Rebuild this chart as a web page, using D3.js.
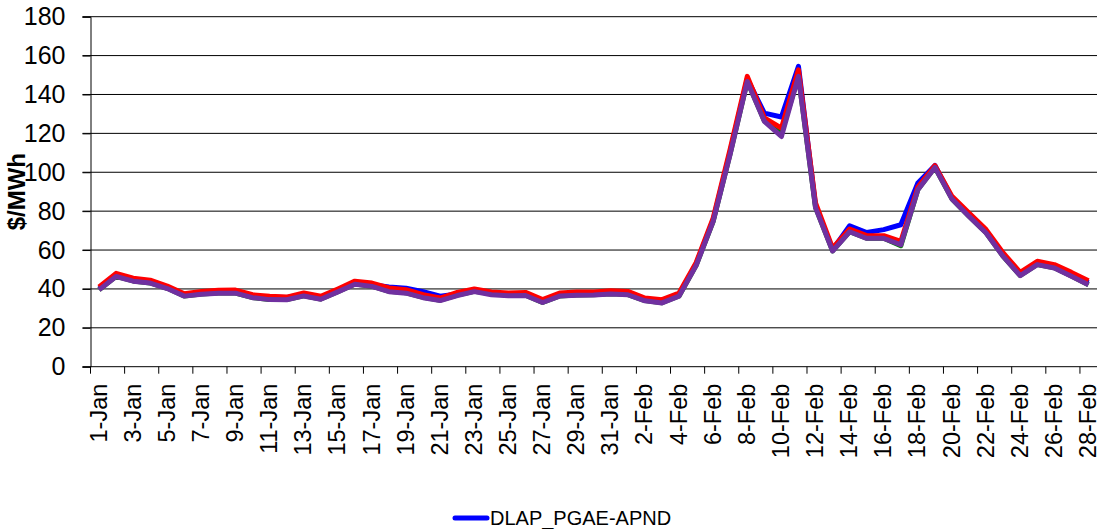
<!DOCTYPE html>
<html>
<head>
<meta charset="utf-8">
<script src="https://cdn.jsdelivr.net/npm/d3@7"></script>
<style>
  html, body { margin: 0; padding: 0; background: #fff; }
  svg { display: block; font-family: "Liberation Sans", Arial, sans-serif; }
</style>
</head>
<body>
<svg id="chart" width="1102" height="529"></svg>
<script>
const categories = [
  "1-Jan","2-Jan","3-Jan","4-Jan","5-Jan","6-Jan","7-Jan","8-Jan","9-Jan","10-Jan",
  "11-Jan","12-Jan","13-Jan","14-Jan","15-Jan","16-Jan","17-Jan","18-Jan","19-Jan","20-Jan",
  "21-Jan","22-Jan","23-Jan","24-Jan","25-Jan","26-Jan","27-Jan","28-Jan","29-Jan","30-Jan","31-Jan",
  "1-Feb","2-Feb","3-Feb","4-Feb","5-Feb","6-Feb","7-Feb","8-Feb","9-Feb","10-Feb",
  "11-Feb","12-Feb","13-Feb","14-Feb","15-Feb","16-Feb","17-Feb","18-Feb","19-Feb","20-Feb",
  "21-Feb","22-Feb","23-Feb","24-Feb","25-Feb","26-Feb","27-Feb","28-Feb"
];

const blueValues = [
  40, 47, 44.8, 43.8, 40.8, 37, 38, 38.6, 38.6, 36.3, 35.8, 35.6, 37.2, 35.5, 39.3, 43.2,
  42.2, 41, 40.4, 38.6, 36.3, 37.4, 39.6, 37.7, 37.2, 37.4, 33.7, 37.1, 37.6, 37.7, 38.2,
  37.8, 34.6, 33.6, 37.1, 52.8, 75.5, 110.8, 148, 130.4, 128.4, 154.5, 83, 60.2, 72.5,
  69, 70.5, 73, 94.5, 103.5, 86.8, 78, 69.6, 57.5, 47.6, 53.3, 51.6, 47.5, 43.2
];

const greenValues = [
  39.6, 46.5, 44.1, 43.1, 40.3, 36.4, 37.4, 37.9, 37.9, 35.6, 34.6, 34.5, 36.5, 34.8, 38.6, 42.5,
  41.4, 38.8, 38, 35.7, 34.2, 36.8, 38.8, 37.5, 36.7, 36.8, 33.1, 36.4, 36.9, 37, 37.5,
  37.1, 34, 32.9, 36.4, 52.1, 74.8, 109.7, 146.8, 126.5, 120, 149.5, 82, 59.6, 69.5,
  66.1, 66.1, 62.2, 91.1, 102.6, 86.3, 77.4, 68.9, 56.8, 46.9, 52.6, 50.9, 46.6, 42.1
];

const redValues = [
  41, 48, 45.5, 44.5, 41.5, 37.5, 38.7, 39.3, 39.4, 37, 36.2, 35.8, 37.9, 36.2, 40, 44,
  43, 40.5, 39.6, 37, 35.3, 38.2, 40, 38.4, 37.9, 38.2, 34.5, 37.9, 38.4, 38.4, 39,
  38.7, 35.3, 34.5, 37.9, 53.5, 76.4, 112, 149.3, 128, 122.7, 152.7, 84.2, 61, 70.8,
  67.4, 67.4, 64.4, 92.4, 103.4, 87.6, 79, 70.5, 58.5, 48.5, 54.2, 52.5, 48.5, 44.2
];

const purpleValues = [
  39.5, 46.4, 44, 43, 40.2, 36.3, 37.3, 37.8, 37.8, 35.5, 34.5, 34.4, 36.4, 34.7, 38.5, 42.4,
  41.3, 38.6, 37.8, 35.5, 34, 36.6, 38.6, 37, 36.5, 36.6, 33, 36.3, 36.8, 36.9, 37.4,
  37, 33.9, 32.8, 36.3, 52, 74.7, 109.5, 146.7, 126.2, 118.4, 149.3, 81.8, 59.5, 69.4,
  66, 66, 62.7, 91, 102.5, 86.2, 77.3, 68.8, 56.7, 46.8, 52.5, 50.8, 46.5, 42.2
];

const yTicks = [0, 20, 40, 60, 80, 100, 120, 140, 160, 180];
const xTickLabels = categories.filter((d, i) => i % 2 === 0);

const seriesList = [
  { name: "DLAP_PGAE-APND", values: blueValues, color: "#0000ff" },
  { name: "green", values: greenValues, color: "#008000" },
  { name: "red", values: redValues, color: "#ff0000" },
  { name: "purple", values: purpleValues, color: "#7030a0" }
];

const svg = d3.select("#chart");
const pLeft = 90.5, pRight = 1097, pTop = 16.7, pBottom = 366.7;

const x = d3.scaleBand().domain(categories).range([pLeft, pRight]).paddingInner(0).paddingOuter(0);
const y = d3.scaleLinear().domain([0, 180]).range([pBottom, pTop]);

// gridlines
svg.append("g").selectAll("line").data(yTicks.filter(d => d > 0)).join("line")
  .attr("x1", pLeft - 8).attr("x2", pRight)
  .attr("y1", d => y(d)).attr("y2", d => y(d))
  .attr("stroke", "#000").attr("stroke-width", 1);

// y axis
const yAxis = d3.axisLeft(y).tickValues(yTicks).tickSize(8).tickPadding(17);
const gy = svg.append("g").attr("transform", `translate(${pLeft},0)`).call(yAxis);
gy.select(".domain").attr("stroke", "#000");
gy.selectAll(".tick line").attr("stroke", "#000");
gy.selectAll(".tick text").attr("font-size", 25).attr("fill", "#000")
  .attr("font-family", "Liberation Sans, Arial, sans-serif");

// x axis
const xAxis = d3.axisBottom(x).tickValues(xTickLabels).tickSize(0).tickFormat(d => d);
const gx = svg.append("g").attr("transform", `translate(0,${pBottom})`).call(xAxis);
gx.select(".domain").remove();
gx.selectAll(".tick text")
  .attr("font-size", 23.5).attr("fill", "#000")
  .attr("font-family", "Liberation Sans, Arial, sans-serif")
  .attr("text-anchor", "end")
  .attr("transform", "rotate(-90)")
  .attr("x", -17).attr("y", 0).attr("dy", "0.32em");
// tick marks between categories
svg.append("g").selectAll("line").data(xTickLabels).join("line")
  .attr("x1", d => x(d)).attr("x2", d => x(d))
  .attr("y1", pBottom).attr("y2", pBottom + 7)
  .attr("stroke", "#000");
svg.append("line").attr("x1", pLeft - 8).attr("x2", pRight)
  .attr("y1", pBottom).attr("y2", pBottom).attr("stroke", "#000");

// y axis title
svg.append("text")
  .attr("transform", `translate(16,${(pTop + pBottom) / 2}) rotate(-90)`)
  .attr("text-anchor", "middle").attr("dy", "0.36em")
  .attr("font-size", 24).attr("font-weight", "bold").attr("fill", "#000")
  .text("$/MWh");

// lines
const line = d3.line()
  .x((d, i) => x(categories[i]) + x.bandwidth() / 2)
  .y(d => y(d));

svg.append("g").selectAll("path").data(seriesList).join("path")
  .attr("d", s => line(s.values))
  .attr("fill", "none")
  .attr("stroke", s => s.color)
  .attr("stroke-width", 5)
  .attr("stroke-linejoin", "round");

// legend (only first series is visible)
const lg = svg.append("g");
lg.append("line").attr("x1", 455).attr("x2", 487).attr("y1", 518).attr("y2", 518)
  .attr("stroke", seriesList[0].color).attr("stroke-width", 5).attr("stroke-linecap", "round");
lg.append("text").attr("x", 490).attr("y", 518).attr("dy", "0.36em")
  .attr("font-size", 20).attr("fill", "#000").text(seriesList[0].name);
</script>
</body>
</html>
